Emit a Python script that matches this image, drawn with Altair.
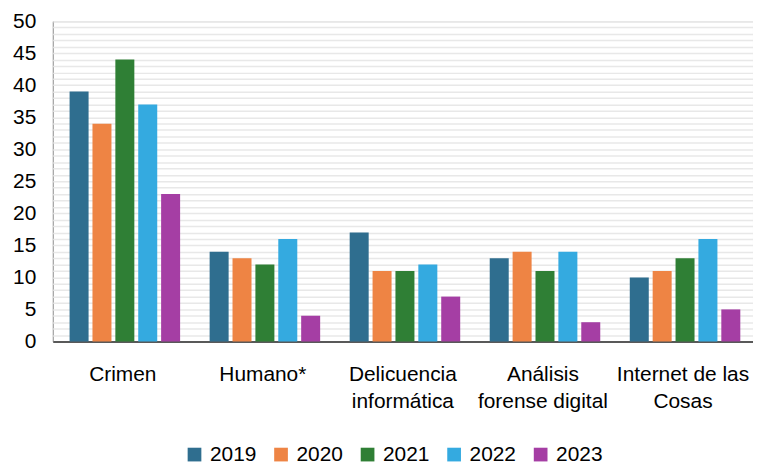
import altair as alt
import pandas as pd

categories = ["Crimen", "Humano*", "Delicuencia informática",
              "Análisis forense digital", "Internet de las Cosas"]
label_lines = [["Crimen"], ["Humano*"], ["Delicuencia", "informática"],
               ["Análisis", "forense digital"], ["Internet de las", "Cosas"]]
years = ["2019", "2020", "2021", "2022", "2023"]
v2019 = [39, 14, 17, 13, 10]
v2020 = [34, 13, 11, 14, 11]
v2021 = [44, 12, 11, 11, 13]
v2022 = [37, 16, 12, 14, 16]
v2023 = [23, 4, 7, 3, 5]
year_colors = ["#2F6E8F", "#EE8444", "#2F7F35", "#34AAE0", "#A53EA4"]

series = [v2019, v2020, v2021, v2022, v2023]
rows = []
for y, vals in zip(years, series):
    for c, v in zip(categories, vals):
        rows.append({"categoria": c, "anio": y, "valor": v})
df = pd.DataFrame(rows)

# multi-line axis labels
expr = "[datum.label]"
for c, lines in zip(categories, label_lines):
    arr = "[" + ",".join("'" + l + "'" for l in lines) + "]"
    expr = f"datum.label == '{c}' ? {arr} : ({expr})"

FONT = "Liberation Sans"

chart = alt.Chart(df).mark_bar().encode(
    x=alt.X("categoria:N", sort=categories, title=None,
            scale=alt.Scale(paddingInner=0, paddingOuter=0),
            axis=alt.Axis(labelExpr=expr, labelAngle=0, ticks=False,
                          domainColor="#595959", domainWidth=2,
                          labelPadding=22, labelLineHeight=27,
                          labelFontSize=21, labelFont=FONT,
                          labelColor="#000000", labelBaseline="top")),
    xOffset=alt.XOffset("anio:N", sort=years,
                        scale=alt.Scale(paddingInner=0.17, paddingOuter=0.645,
                                        align=0.57)),
    y=alt.Y("valor:Q", title=None,
            scale=alt.Scale(domain=[0, 50], nice=False),
            axis=alt.Axis(values=list(range(0, 51)),
                          labelExpr="datum.value % 5 == 0 ? datum.label : ''",
                          domain=False, ticks=False, labelPadding=17,
                          labelFontSize=21, labelFont=FONT, labelColor="#000000",
                          gridColor="#e8e8e8", gridWidth=1.5)),
    color=alt.Color("anio:N", sort=years, title=None,
                    scale=alt.Scale(domain=years, range=year_colors),
                    legend=alt.Legend(orient="none", direction="horizontal",
                                      legendX=132, legendY=425,
                                      symbolType="square", symbolSize=190,
                                      symbolStrokeWidth=0, labelFontSize=21,
                                      labelFont=FONT, labelColor="#000000",
                                      labelOffset=5, columnPadding=14)),
).properties(
    width=704, height=322,
    autosize=alt.AutoSizeParams(type="none"),
    padding={"left": 45, "top": 12, "right": 0, "bottom": 122},
).configure_view(
    stroke="#8c8c8c", strokeWidth=1
)

chart.save("out.html", embed_options={"renderer": "svg", "actions": False})
